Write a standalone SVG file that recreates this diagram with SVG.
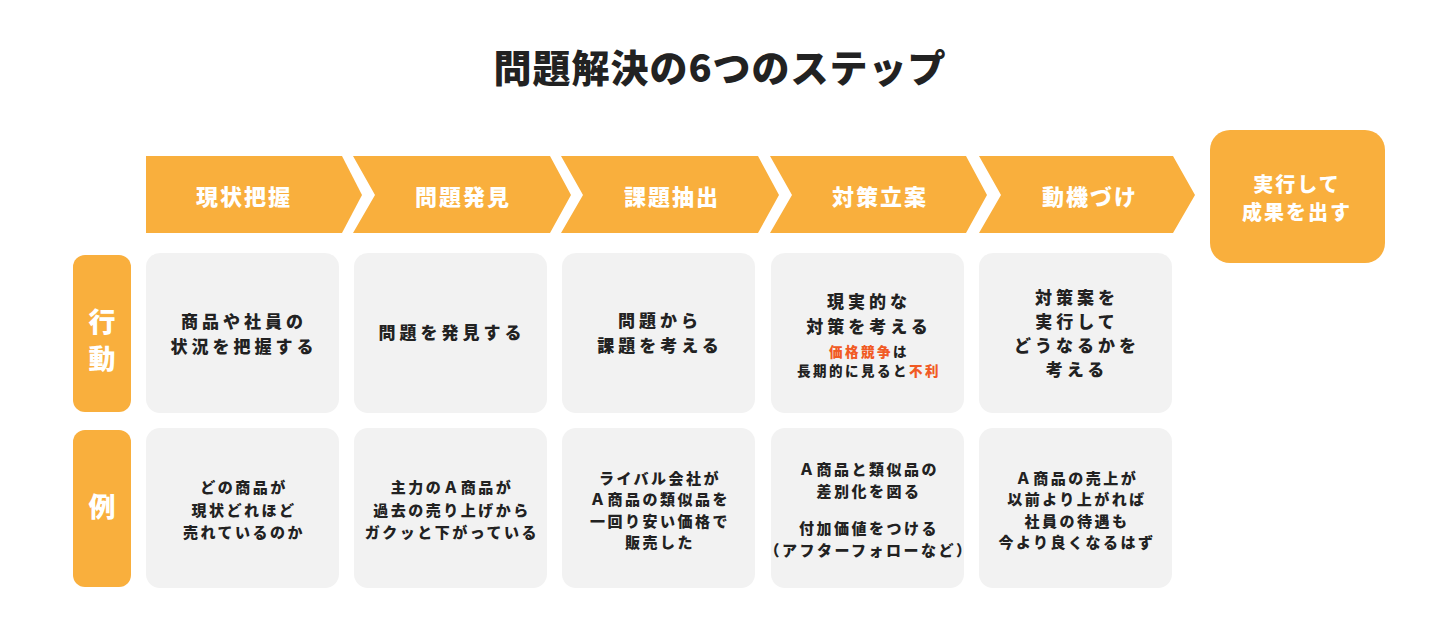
<svg xmlns="http://www.w3.org/2000/svg" width="1440" height="617" viewBox="0 0 1440 617">
<style>
text{font-family:"Noto Sans CJK JP","Noto Sans",sans-serif;font-weight:900;text-anchor:middle}
.title{font-size:38px;fill:#222;letter-spacing:1px}
.chev{fill:#F9AF3D}
.chevt{font-size:22px;fill:#fff;letter-spacing:2px}
.lab{fill:#F9AF3D}
.labt{font-size:27px;fill:#fff}
.box{fill:#F2F2F2}
.t1{font-size:17px;fill:#222;letter-spacing:4px}
.t2{font-size:15px;fill:#222;letter-spacing:2.5px}
.ts{font-size:13.5px;fill:#222;letter-spacing:2.5px}
.red{fill:#F15A24}
.fint{font-size:20px;fill:#fff;letter-spacing:2px}
</style>
<rect width="1440" height="617" fill="#fff"/>
<g id="title"><text class="title" x="720" y="82">問題解決の6つのステップ</text></g>

<g id="step1"><path class="chev" d="M146,156 H342 L362,195 L342,233 H146 Z"/><text class="chevt" x="244" y="205">現状把握</text></g>
<g id="step2"><path class="chev" d="M353,156 H550 L571,195 L550,233 H353 L375,195 Z"/><text class="chevt" x="463" y="205">問題発見</text></g>
<g id="step3"><path class="chev" d="M561,156 H758 L779,195 L758,233 H561 L583,195 Z"/><text class="chevt" x="672" y="205">課題抽出</text></g>
<g id="step4"><path class="chev" d="M770,156 H966 L987,195 L966,233 H770 L792,195 Z"/><text class="chevt" x="880" y="205">対策立案</text></g>
<g id="step5"><path class="chev" d="M979,156 H1173 L1195,195 L1173,233 H979 L1001,195 Z"/><text class="chevt" x="1090" y="205">動機づけ</text></g>
<g id="step6"><rect class="chev" x="1210" y="130" width="175" height="133" rx="20"/><text class="fint" x="1297" y="192">実行して</text><text class="fint" x="1297" y="220">成果を出す</text></g>

<g id="label-action"><rect class="lab" x="73" y="255" width="58" height="157" rx="12"/><text class="labt" x="102" y="332">行</text><text class="labt" x="102" y="369">動</text></g>
<g id="label-example"><rect class="lab" x="73" y="430" width="58" height="157" rx="12"/><text class="labt" x="102" y="517">例</text></g>

<g id="action1"><rect class="box" x="146" y="253" width="193" height="160" rx="14"/>
<text class="t1" x="244" y="328">商品や社員の</text><text class="t1" x="244" y="353">状況を把握する</text></g>
<g id="action2"><rect class="box" x="354" y="253" width="193" height="160" rx="14"/>
<text class="t1" x="452" y="339">問題を発見する</text></g>
<g id="action3"><rect class="box" x="562" y="253" width="193" height="160" rx="14"/>
<text class="t1" x="660" y="327">問題から</text><text class="t1" x="660" y="352">課題を考える</text></g>
<g id="action4"><rect class="box" x="771" y="253" width="193" height="160" rx="14"/>
<text class="t1" x="869" y="308">現実的な</text><text class="t1" x="869" y="333">対策を考える</text>
<text class="ts" x="869" y="357"><tspan class="red">価格競争</tspan>は</text>
<text class="ts" x="869" y="376">長期的に見ると<tspan class="red">不利</tspan></text></g>
<g id="action5"><rect class="box" x="979" y="253" width="193" height="160" rx="14"/>
<text class="t1" x="1077" y="304">対策案を</text><text class="t1" x="1077" y="328">実行して</text><text class="t1" x="1077" y="352">どうなるかを</text><text class="t1" x="1077" y="376">考える</text></g>

<g id="example1"><rect class="box" x="146" y="428" width="193" height="160" rx="14"/>
<text class="t2" x="244" y="493">どの商品が</text><text class="t2" x="244" y="515.5">現状どれほど</text><text class="t2" x="244" y="538">売れているのか</text></g>
<g id="example2"><rect class="box" x="354" y="428" width="193" height="160" rx="14"/>
<text class="t2" x="452" y="493">主力のＡ商品が</text><text class="t2" x="452" y="515.5">過去の売り上げから</text><text class="t2" x="452" y="538">ガクッと下がっている</text></g>
<g id="example3"><rect class="box" x="562" y="428" width="193" height="160" rx="14"/>
<text class="t2" x="660" y="483.5">ライバル会社が</text><text class="t2" x="660" y="505">Ａ商品の類似品を</text><text class="t2" x="660" y="526.5">一回り安い価格で</text><text class="t2" x="660" y="548">販売した</text></g>
<g id="example4"><rect class="box" x="771" y="428" width="193" height="160" rx="14"/>
<text class="t2" x="869" y="475">Ａ商品と類似品の</text><text class="t2" x="869" y="496.5">差別化を図る</text><text class="t2" x="869" y="534">付加価値をつける</text><text class="t2" x="869" y="555.5">（アフターフォローなど）</text></g>
<g id="example5"><rect class="box" x="979" y="428" width="193" height="160" rx="14"/>
<text class="t2" x="1077" y="483.5">Ａ商品の売上が</text><text class="t2" x="1077" y="505">以前より上がれば</text><text class="t2" x="1077" y="526.5">社員の待遇も</text><text class="t2" x="1077" y="548">今より良くなるはず</text></g>
<g id="connectors"></g>
</svg>
